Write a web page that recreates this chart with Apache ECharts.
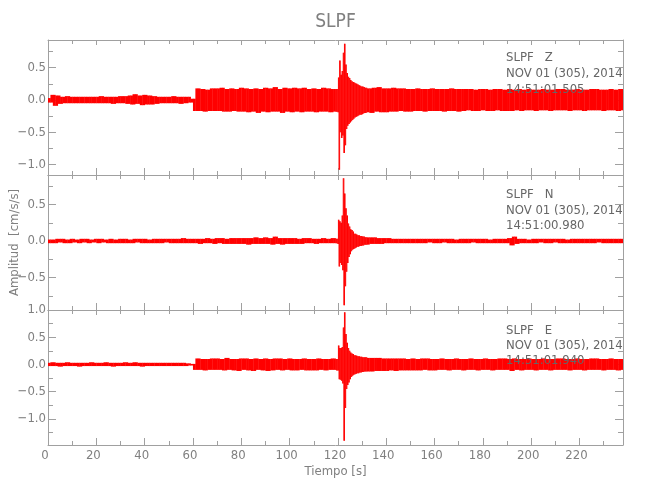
<!DOCTYPE html>
<html>
<head>
<meta charset="utf-8">
<script src="https://cdn.jsdelivr.net/npm/echarts@6/dist/echarts.min.js"></script>
<style>html,body{margin:0;padding:0;background:#fff}#c{width:650px;height:500px}</style>
</head>
<body>
<div id="c"></div>
<script>
// ---- sample times (s) ----
const timesA = [0,1,2,3,4,5,6,7,8,9,10,11,12,13,14,15,16,17,18,19,20,21,22,23,24,25,26,27,28,29,30,31,32,33,34,35,36,37,38,39,40,41,42,43,44,45,46,47,48,49,50,51,52,53,54,55,56,57,58,59,60,61,62,63,64,65,66,67,68,69,70,71,72,73,74,75,76,77,78,79,80,81,82,83,84,85,86,87,88,89,90,91,92,93,94,95,96,97,98,99,100,101,102,103,104,105,106,107,108,109,110,111,112,113,114,115,116,117,118,119];
const timesB = [119.25,119.5,119.75,120,120.25,120.5,120.75,121,121.25,121.5,121.75,122,122.25,122.5,122.75,123,123.25,123.5,123.75,124,124.25,124.5,124.75,125,125.25,125.5,125.75,126,126.25,126.5,126.75,127,127.25,127.5,127.75,128,128.25,128.5,128.75,129,129.25,129.5,129.75,130,130.25,130.5,130.75,131,131.25,131.5,131.75];
const timesC = [132,133,134,135,136,137,138,139,140,141,142,143,144,145,146,147,148,149,150,151,152,153,154,155,156,157,158,159,160,161,162,163,164,165,166,167,168,169,170,171,172,173,174,175,176,177,178,179,180,181,182,183,184,185,186,187,188,189,190,191,192,193,194,195,196,197,198,199,200,201,202,203,204,205,206,207,208,209,210,211,212,213,214,215,216,217,218,219,220,221,222,223,224,225,226,227,228,229,230,231,232,233,234,235,236,237,238];

// ---- Z component (cm/s/s), alternating extrema ----
const zA = [
0.03,-0.04,0.08,-0.09,0.07,-0.06,0.05,-0.05,0.06,-0.05,
0.05,-0.05,0.05,-0.05,0.05,-0.05,0.05,-0.05,0.05,-0.05,
0.05,-0.05,0.06,-0.05,0.05,-0.05,0.05,-0.06,0.05,-0.05,
0.06,-0.05,0.06,-0.06,0.07,-0.07,0.09,-0.06,0.07,-0.08,
0.08,-0.07,0.07,-0.07,0.06,-0.06,0.05,-0.05,0.05,-0.05,
0.05,-0.05,0.06,-0.05,0.05,-0.06,0.05,-0.05,0.05,-0.04,
0.02,-0.17,0.18,-0.17,0.17,-0.18,0.16,-0.17,0.18,-0.17,
0.18,-0.17,0.19,-0.18,0.17,-0.18,0.18,-0.17,0.17,-0.18,
0.19,-0.18,0.18,-0.19,0.17,-0.18,0.18,-0.2,0.17,-0.18,
0.19,-0.19,0.18,-0.18,0.2,-0.18,0.17,-0.2,0.19,-0.18,
0.18,-0.19,0.19,-0.18,0.18,-0.19,0.19,-0.18,0.17,-0.18,
0.18,-0.19,0.17,-0.18,0.19,-0.18,0.18,-0.19,0.17,-0.18];
const zB = [
0.17,-0.18,0.17,-0.19,0.35,-1.08,0.61,-0.5,0.39,-0.59,
0.45,-0.55,0.73,-0.82,0.87,-0.7,0.55,-0.45,0.42,-0.4,
0.36,-0.37,0.34,-0.35,0.31,-0.33,0.29,-0.31,0.28,-0.29,
0.27,-0.27,0.26,-0.26,0.25,-0.25,0.24,-0.24,0.23,-0.23,
0.22,-0.23,0.21,-0.22,0.21,-0.21,0.2,-0.2,0.19,-0.2,
0.19];
const zC = [
-0.19,0.18,-0.2,0.19,-0.18,0.2,-0.19,0.18,-0.19,0.18,
-0.18,0.19,-0.18,0.18,-0.17,0.18,-0.18,0.17,-0.18,0.17,
-0.17,0.18,-0.17,0.17,-0.18,0.17,-0.17,0.18,-0.17,0.17,
-0.17,0.17,-0.18,0.17,-0.17,0.18,-0.17,0.17,-0.18,0.17,
-0.17,0.17,-0.16,0.17,-0.17,0.16,-0.17,0.17,-0.16,0.17,
-0.17,0.16,-0.17,0.17,-0.16,0.17,-0.17,0.16,-0.17,0.17,
-0.17,0.16,-0.16,0.17,-0.17,0.16,-0.16,0.17,-0.16,0.16,
-0.17,0.16,-0.16,0.17,-0.16,0.16,-0.17,0.16,-0.16,0.17,
-0.16,0.17,-0.16,0.16,-0.17,0.16,-0.16,0.17,-0.16,0.16,
-0.17,0.16,-0.16,0.17,-0.16,0.17,-0.16,0.16,-0.17,0.16,
-0.16,0.17,-0.16,0.16,-0.17,0.17,-0.16];

// ---- N component ----
const nA = [
0.02,-0.03,0.02,-0.03,0.03,-0.02,0.03,-0.03,0.02,-0.03,
0.03,-0.02,0.02,-0.03,0.03,-0.02,0.03,-0.03,0.02,-0.02,
0.03,-0.03,0.03,-0.02,0.02,-0.03,0.03,-0.03,0.02,-0.03,
0.03,-0.03,0.03,-0.03,0.02,-0.03,0.03,-0.02,0.03,-0.03,
0.03,-0.03,0.02,-0.03,0.03,-0.03,0.03,-0.03,0.03,-0.02,
0.03,-0.03,0.03,-0.03,0.03,-0.03,0.04,-0.03,0.03,-0.03,
0.03,-0.03,0.03,-0.04,0.03,-0.03,0.04,-0.03,0.03,-0.04,
0.04,-0.03,0.04,-0.04,0.03,-0.04,0.04,-0.04,0.04,-0.04,
0.04,-0.04,0.04,-0.05,0.04,-0.04,0.05,-0.04,0.04,-0.04,
0.05,-0.04,0.04,-0.05,0.06,-0.04,0.04,-0.05,0.04,-0.04,
0.04,-0.04,0.04,-0.04,0.03,-0.04,0.04,-0.03,0.04,-0.03,
0.03,-0.04,0.03,-0.03,0.04,-0.03,0.03,-0.03,0.04,-0.03];
const nB = [
0.03,-0.03,0.03,-0.04,0.29,-0.35,0.27,-0.3,0.25,-0.33,
0.35,-0.4,0.86,-0.88,0.65,-0.62,0.45,-0.42,0.35,-0.3,
0.24,-0.22,0.2,-0.18,0.16,-0.14,0.15,-0.12,0.13,-0.11,
0.1,-0.1,0.1,-0.09,0.09,-0.08,0.08,-0.08,0.08,-0.07,
0.07,-0.07,0.07,-0.06,0.06,-0.06,0.06,-0.05,0.05,-0.05,
0.05];
const nC = [
-0.05,0.05,-0.04,0.05,-0.04,0.04,-0.04,0.04,-0.03,0.04,
-0.03,0.03,-0.03,0.03,-0.03,0.03,-0.03,0.03,-0.03,0.03,
-0.03,0.03,-0.03,0.03,-0.03,0.03,-0.02,0.03,-0.03,0.03,
-0.03,0.03,-0.02,0.03,-0.03,0.03,-0.03,0.02,-0.03,0.03,
-0.03,0.03,-0.03,0.03,-0.02,0.03,-0.03,0.03,-0.03,0.03,
-0.03,0.02,-0.03,0.03,-0.03,0.03,-0.03,0.03,-0.03,0.04,
-0.06,0.06,-0.04,0.03,-0.03,0.03,-0.03,0.02,-0.03,0.03,
-0.03,0.03,-0.02,0.03,-0.03,0.03,-0.03,0.03,-0.02,0.03,
-0.03,0.03,-0.03,0.02,-0.03,0.03,-0.03,0.03,-0.03,0.03,
-0.03,0.03,-0.03,0.03,-0.03,0.03,-0.02,0.03,-0.03,0.03,
-0.03,0.03,-0.03,0.03,-0.03,0.03,-0.03];

// ---- E component ----
const eA = [
0.03,-0.03,0.04,-0.03,0.03,-0.04,0.03,-0.03,0.04,-0.03,
0.03,-0.03,0.03,-0.04,0.03,-0.03,0.03,-0.03,0.04,-0.03,
0.03,-0.03,0.03,-0.03,0.04,-0.03,0.03,-0.04,0.03,-0.03,
0.03,-0.03,0.04,-0.03,0.03,-0.03,0.04,-0.03,0.03,-0.04,
0.03,-0.03,0.03,-0.03,0.03,-0.03,0.03,-0.03,0.03,-0.03,
0.03,-0.03,0.03,-0.03,0.03,-0.03,0.03,-0.03,0.02,-0.02,
0.01,-0.1,0.11,-0.1,0.1,-0.11,0.1,-0.1,0.11,-0.1,
0.11,-0.1,0.1,-0.11,0.12,-0.1,0.1,-0.11,0.1,-0.12,
0.11,-0.1,0.11,-0.11,0.1,-0.12,0.11,-0.1,0.1,-0.11,
0.11,-0.12,0.1,-0.11,0.11,-0.1,0.11,-0.11,0.1,-0.1,
0.11,-0.11,0.1,-0.11,0.1,-0.1,0.11,-0.11,0.1,-0.11,
0.1,-0.11,0.11,-0.1,0.1,-0.11,0.1,-0.1,0.11,-0.1];
const eB = [
0.1,-0.11,0.1,-0.11,0.35,-0.27,0.3,-0.28,0.3,-0.3,
0.32,-0.35,0.68,-1.4,0.96,-0.8,0.56,-0.45,0.4,-0.38,
0.3,-0.33,0.25,-0.27,0.22,-0.23,0.2,-0.21,0.19,-0.19,
0.17,-0.18,0.17,-0.17,0.16,-0.16,0.15,-0.16,0.15,-0.15,
0.14,-0.15,0.14,-0.14,0.13,-0.14,0.13,-0.13,0.13,-0.13,
0.13];
const eC = [
-0.13,0.12,-0.13,0.12,-0.12,0.12,-0.12,0.11,-0.12,0.11,
-0.11,0.11,-0.12,0.11,-0.11,0.11,-0.11,0.1,-0.11,0.11,
-0.11,0.1,-0.11,0.11,-0.1,0.11,-0.11,0.1,-0.11,0.1,
-0.1,0.11,-0.1,0.1,-0.11,0.1,-0.1,0.11,-0.1,0.1,
-0.11,0.1,-0.1,0.11,-0.1,0.1,-0.11,0.1,-0.1,0.11,
-0.1,0.1,-0.11,0.1,-0.1,0.11,-0.1,0.11,-0.1,0.1,
-0.12,0.11,-0.1,0.1,-0.11,0.1,-0.1,0.11,-0.1,0.1,
-0.11,0.1,-0.1,0.11,-0.1,0.1,-0.11,0.1,-0.1,0.11,
-0.1,0.11,-0.1,0.1,-0.11,0.1,-0.1,0.11,-0.1,0.1,
-0.11,0.1,-0.1,0.11,-0.1,0.11,-0.1,0.1,-0.11,0.1,
-0.1,0.11,-0.1,0.1,-0.11,0.1,-0.1];

// ---- axes / labels ----
const xMajor = [0,20,40,60,80,100,120,140,160,180,200,220];
const xMinor = [10,30,50,70,90,110,130,150,170,190,210,230];
const xRange = [0,238];
const yRanges = [[-1.161,0.929],[-0.945,0.904],[-1.48,1.0]];
const yMajor = [[-1,-0.5,0,0.5],[-0.5,0,0.5],[-1,-0.5,0,0.5,1]];
const yMinor = [[-0.75,-0.25,0.25,0.75],[-0.75,-0.25,0.25,0.75],[-1.25,-0.75,-0.25,0.25,0.75]];
const components = ['Z','N','E'];
const startTimes = ['14:51:01.505','14:51:00.980','14:51:01.940'];
const dateLabel = 'NOV 01 (305), 2014';
const stationName = 'SLPF';

const FONT = "'Liberation Sans Narrow','DejaVu Sans Condensed','Roboto Condensed','Liberation Sans',sans-serif";
const AX = '#a0a0a0';
const TXT = '#808080';
const gridTops = [40,175,310];
const GRID_H = 135, GRID_L = 48, GRID_W = 575;

const allTimes = timesA.concat(timesB, timesC);
const panelVals = [zA.concat(zB, zC), nA.concat(nB, nC), eA.concat(eB, eC)];
// each item: the trace sweep between two consecutive extrema [t0, t1, v0, v1]
function sweeps(vals){
  const out = [];
  for (let i=1;i<allTimes.length;i++) out.push([allTimes[i-1], allTimes[i], vals[i-1], vals[i]]);
  return out;
}
function renderSweep(params, api){
  const p0 = api.coord([api.value(0), api.value(2)]);
  const p1 = api.coord([api.value(1), api.value(3)]);
  const x = Math.min(p0[0], p1[0]), y = Math.min(p0[1], p1[1]);
  return {type:'rect', shape:{x:x, y:y, width:Math.abs(p1[0]-p0[0])+0.4, height:Math.abs(p1[1]-p0[1])},
    style:{fill:'#ff0000'}};
}

const grids = [], xAxes = [], yAxes = [], series = [];
const fmtY = v => v.toFixed(1).replace('-', '\u2212');

for (let g=0; g<3; g++){
  grids.push({left:GRID_L, top:gridTops[g], width:GRID_W, height:GRID_H, containLabel:false, outerBoundsMode:'none'});
  const isBottom = g===2;
  const baseX = {gridIndex:g, type:'value', min:xRange[0], max:xRange[1], splitLine:{show:false}, scale:false};
  xAxes.push(Object.assign({}, baseX, {
    position:'bottom',
    axisLine:{show:true, onZero:false, lineStyle:{color:AX,width:1}},
    axisTick:{show:true, inside:true, length:7, customValues:xMajor, lineStyle:{color:AX}},
    axisLabel:{show:isBottom, customValues:xMajor, color:TXT, fontFamily:FONT, fontSize:13, margin:4, padding:[0,6,0,0]},
    name: isBottom ? 'Tiempo [s]' : '', nameLocation:'middle', nameGap:20,
    nameTextStyle:{color:TXT, fontFamily:FONT, fontSize:13}
  }));
  xAxes.push(Object.assign({}, baseX, {
    position:'bottom',
    axisLine:{show:false, onZero:false},
    axisTick:{show:true, inside:true, length:4, customValues:xMinor, lineStyle:{color:AX}},
    axisLabel:{show:false}
  }));
  xAxes.push(Object.assign({}, baseX, {
    position:'top',
    axisLine:{show:true, onZero:false, lineStyle:{color:AX,width:1}},
    axisTick:{show:true, inside:true, length:5, customValues:xMajor, lineStyle:{color:AX}},
    axisLabel:{show:false}
  }));
  xAxes.push(Object.assign({}, baseX, {
    position:'top',
    axisLine:{show:false, onZero:false},
    axisTick:{show:true, inside:true, length:4, customValues:xMinor, lineStyle:{color:AX}},
    axisLabel:{show:false}
  }));

  const baseY = {gridIndex:g, type:'value', min:yRanges[g][0], max:yRanges[g][1], splitLine:{show:false}, scale:false};
  yAxes.push(Object.assign({}, baseY, {
    position:'left',
    axisLine:{show:true, onZero:false, lineStyle:{color:AX,width:1}},
    axisTick:{show:true, inside:true, length:8, customValues:yMajor[g], lineStyle:{color:AX}},
    axisLabel:{show:true, customValues:yMajor[g], formatter:fmtY, color:TXT, fontFamily:FONT, fontSize:13, margin:2}
  }));
  yAxes.push(Object.assign({}, baseY, {
    position:'left',
    axisLine:{show:false, onZero:false},
    axisTick:{show:true, inside:true, length:5, customValues:yMinor[g], lineStyle:{color:AX}},
    axisLabel:{show:false}
  }));
  yAxes.push(Object.assign({}, baseY, {
    position:'right',
    axisLine:{show:true, onZero:false, lineStyle:{color:AX,width:1}},
    axisTick:{show:true, inside:true, length:8, customValues:yMajor[g], lineStyle:{color:AX}},
    axisLabel:{show:false}
  }));
  yAxes.push(Object.assign({}, baseY, {
    position:'right',
    axisLine:{show:false, onZero:false},
    axisTick:{show:true, inside:true, length:5, customValues:yMinor[g], lineStyle:{color:AX}},
    axisLabel:{show:false}
  }));

  series.push({
    type:'custom', xAxisIndex:g*4, yAxisIndex:g*4, data:sweeps(panelVals[g]),
    renderItem:renderSweep, clip:true, animation:false, silent:true,
    encode:{x:[0,1], y:[2,3]}
  });
}

const graphics = [
  {type:'text', x:335.5, y:22, z:100, style:{text:stationName, fill:TXT, fontFamily:FONT, fontSize:19, align:'center', verticalAlign:'middle'}},
  {type:'text', x:15, y:242.5, rotation:Math.PI/2, z:100, style:{text:'Amplitud  [cm/s/s]', fill:TXT, fontFamily:FONT, fontSize:13, align:'center', verticalAlign:'middle'}}
];
const annY = [[58,74,90],[195,210.5,225.5],[331,345.5,360.5]];
for (let g=0; g<3; g++){
  const lines = [stationName + '   ' + components[g], dateLabel, startTimes[g]];
  for (let k=0;k<3;k++){
    graphics.push({type:'text', x:506, y:annY[g][k], z:100,
      style:{text:lines[k], fill:'#666666', fontFamily:FONT, fontSize:13, align:'left', verticalAlign:'middle'}});
  }
}

const chart = echarts.init(document.getElementById('c'), null, {renderer:'canvas'});
chart.setOption({
  animation:false,
  backgroundColor:'#ffffff',
  grid:grids, xAxis:xAxes, yAxis:yAxes, series:series, graphic:graphics
});
</script>
</body>
</html>
